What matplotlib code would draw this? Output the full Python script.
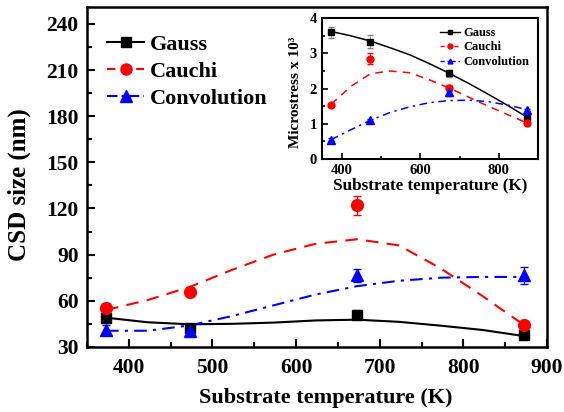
import numpy as np
import matplotlib
matplotlib.use('Agg')
import matplotlib.pyplot as plt
from matplotlib.ticker import MultipleLocator

plt.rcParams['font.family'] = ['Liberation Serif', 'DejaVu Serif']
plt.rcParams['font.weight'] = 'bold'

# main panel: CSD size (nm)
temp = [373, 473, 673, 873]
gauss_csd = [49, 42, 51, 37.5]
cauchi_csd = [55, 66, 122, 44.5]
conv_csd = [41, 40.5, 76.5, 76.5]
gauss_csd_err = [2, 2, 3, 1.5]
cauchi_csd_err = [2, 2, 6, 1.5]
conv_csd_err = [3, 3, 4, 5.5]

# fitted curves
fit_t = [373, 423, 473, 523, 573, 623, 673, 723, 773, 823, 873]
gauss_csd_fit = [49, 46, 44.7, 45, 45.8, 47.2, 47.7, 46.3, 43.8, 41, 37]
cauchi_csd_fit = [54, 60.5, 69, 80, 90, 97, 100, 96, 81, 63, 44]
conv_csd_fit = [40.5, 40.5, 44, 50, 57, 64, 69.5, 73, 75, 75.5, 75.5]

# inset: microstress x 10^3
gauss_ms = [3.6, 3.33, 2.43, 1.2]
cauchi_ms = [1.52, 2.85, 2.02, 1.02]
conv_ms = [0.55, 1.1, 1.9, 1.38]
gauss_ms_err = [0.15, 0.18, 0.1, 0.05]
cauchi_ms_err = [0.05, 0.15, 0.08, 0.05]
conv_ms_err = [0.05, 0.05, 0.1, 0.05]
gauss_ms_fit = [3.62, 3.5, 3.35, 3.16, 2.96, 2.71, 2.44, 2.15, 1.84, 1.52, 1.18]
cauchi_ms_fit = [1.55, 2.06, 2.42, 2.5, 2.45, 2.25, 2.02, 1.76, 1.5, 1.26, 1.02]
conv_ms_fit = [0.55, 0.83, 1.1, 1.32, 1.48, 1.6, 1.66, 1.67, 1.63, 1.53, 1.4]

fig = plt.figure(figsize=(5.64, 4.12), dpi=100)
ax = fig.add_axes([0.154, 0.158, 0.816, 0.825])

ax.plot(fit_t, gauss_csd_fit, color='black', lw=1.5, ls='-')
ax.plot(fit_t, cauchi_csd_fit, color='red', lw=1.5, ls=(0, (6, 4)))
ax.plot(fit_t, conv_csd_fit, color='blue', lw=1.5, ls=(0, (6, 3, 1.5, 3)))
ax.errorbar(temp, gauss_csd, yerr=gauss_csd_err, fmt='s', color='black', ms=7.5,
            ecolor='gray', elinewidth=0.8, capsize=3)
ax.errorbar(temp, cauchi_csd, yerr=cauchi_csd_err, fmt='o', color='red', ms=8.5,
            ecolor='red', elinewidth=0.8, capsize=3)
ax.errorbar(temp, conv_csd, yerr=conv_csd_err, fmt='^', color='blue', ms=9,
            ecolor='blue', elinewidth=0.8, capsize=3)

# legend handles
ax.plot([], [], color='black', ls='-', marker='s', ms=7, lw=1.5, label='Gauss')
ax.plot([], [], color='red', ls=(0, (4, 3)), marker='o', ms=8, lw=1.5, label='Cauchi')
ax.plot([], [], color='blue', ls=(0, (5, 2, 1.5, 2)), marker='^', ms=8, lw=1.5, label='Convolution')
h, l = ax.get_legend_handles_labels()
ax.legend(h[-3:], l[-3:], loc='upper left', bbox_to_anchor=(0.043, 0.92),
          frameon=False, borderpad=0, borderaxespad=0,
          handlelength=1.7, handletextpad=0.25, labelspacing=0.3,
          prop={'weight': 'bold', 'size': 16})

ax.set_xlim(350, 900)
ax.set_ylim(30, 251)
ax.xaxis.set_major_locator(MultipleLocator(100))
ax.xaxis.set_minor_locator(MultipleLocator(50))
ax.yaxis.set_major_locator(MultipleLocator(30))
ax.yaxis.set_minor_locator(MultipleLocator(15))
ax.tick_params(which='both', direction='in', labelsize=15.5, width=1.5)
ax.tick_params(which='major', length=6)
ax.tick_params(which='minor', length=3.5)
ax.tick_params(axis='x', pad=8)
ax.tick_params(axis='y', pad=6)
for s in ax.spines.values():
    s.set_linewidth(1.8)
ax.set_xlabel('Substrate temperature (K)', fontsize=16, fontweight='bold')
ax.set_ylabel('CSD size (nm)', fontsize=18, fontweight='bold')
ax.xaxis.set_label_coords(0.52, -0.122)
ax.yaxis.set_label_coords(-0.122, 0.476)

# inset
ins = fig.add_axes([0.571, 0.614, 0.383, 0.342])
ins.plot(fit_t, gauss_ms_fit, color='black', lw=1.1, ls='-')
ins.plot(fit_t, cauchi_ms_fit, color='red', lw=1.1, ls=(0, (5, 4)))
ins.plot(fit_t, conv_ms_fit, color='blue', lw=1.1, ls=(0, (5, 3, 1.5, 3)))
ins.errorbar(temp, gauss_ms, yerr=gauss_ms_err, fmt='s', color='black', ms=4.5,
             ecolor='gray', elinewidth=0.6, capsize=2)
ins.errorbar(temp, cauchi_ms, yerr=cauchi_ms_err, fmt='o', color='red', ms=5,
             ecolor='red', elinewidth=0.6, capsize=2)
ins.errorbar(temp, conv_ms, yerr=conv_ms_err, fmt='^', color='blue', ms=5.5,
             ecolor='blue', elinewidth=0.6, capsize=2)
ins.plot([], [], color='black', ls='-', marker='s', ms=3.5, lw=1, label='Gauss')
ins.plot([], [], color='red', ls=(0, (3, 2)), marker='o', ms=3.5, lw=1, label='Cauchi')
ins.plot([], [], color='blue', ls=(0, (3, 2, 1, 2)), marker='^', ms=3.5, lw=1, label='Convolution')
h, l = ins.get_legend_handles_labels()
ins.legend(h[-3:], l[-3:], loc='upper right', frameon=False,
           handlelength=1.6, handletextpad=0.3, labelspacing=0.2,
           borderaxespad=0.3, prop={'weight': 'bold', 'size': 9})
ins.set_xlim(350, 900)
ins.set_ylim(0, 4)
ins.xaxis.set_major_locator(MultipleLocator(200))
ins.xaxis.set_minor_locator(MultipleLocator(100))
ins.yaxis.set_major_locator(MultipleLocator(1))
ins.yaxis.set_minor_locator(MultipleLocator(0.5))
ins.tick_params(which='both', direction='in', labelsize=10.5, width=1.2)
ins.tick_params(which='major', length=4)
ins.tick_params(which='minor', length=2.5)
for s in ins.spines.values():
    s.set_linewidth(1.5)
ins.set_xlabel('Substrate temperature (K)', fontsize=12.3, fontweight='bold', labelpad=1)
ins.set_ylabel('Microstress x 10³', fontsize=11, fontweight='bold')
ins.yaxis.set_label_coords(-0.095, 0.47)

fig.savefig('out.png', dpi=100)
